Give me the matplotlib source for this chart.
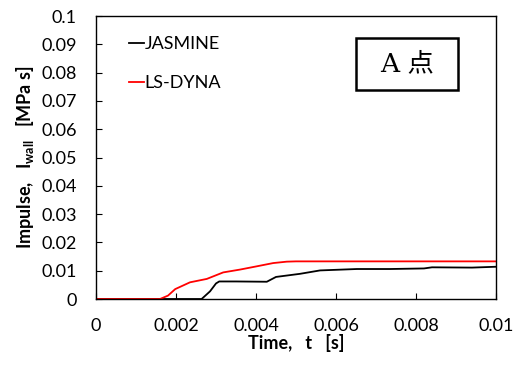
import matplotlib
matplotlib.use("Agg")
import matplotlib.pyplot as plt
from matplotlib.patches import Rectangle

plt.rcParams['font.family'] = ['Lato', 'DejaVu Sans']
plt.rcParams['mathtext.fontset'] = 'custom'
plt.rcParams['mathtext.bf'] = 'Lato:bold'
plt.rcParams['mathtext.rm'] = 'Lato'

red_t = [0, 0.0016, 0.0018, 0.00198, 0.00235, 0.00277, 0.00318, 0.0036, 0.0040, 0.00443, 0.00477, 0.0050, 0.01]
red_v = [0, 0, 0.0012, 0.0035, 0.0059, 0.0071, 0.0094, 0.0104, 0.0115, 0.0127, 0.0132, 0.0133, 0.0133]

blk_t = [0, 0.00264, 0.00285, 0.00300, 0.00308, 0.0035, 0.00427, 0.0045, 0.0051, 0.0056, 0.00652, 0.00735, 0.0082, 0.0084, 0.0094, 0.01]
blk_v = [0, 0, 0.0027, 0.0055, 0.0062, 0.0062, 0.0061, 0.0078, 0.0089, 0.0101, 0.0106, 0.0106, 0.0108, 0.0112, 0.0111, 0.0114]

xticks = [0, 0.002, 0.004, 0.006, 0.008, 0.01]
xlabels = ['0', '0.002', '0.004', '0.006', '0.008', '0.01']
yticks = [0, 0.01, 0.02, 0.03, 0.04, 0.05, 0.06, 0.07, 0.08, 0.09, 0.1]
ylabels = ['0', '0.01', '0.02', '0.03', '0.04', '0.05', '0.06', '0.07', '0.08', '0.09', '0.1']

fig = plt.figure(figsize=(5.17, 3.65), dpi=100)
ax = fig.add_axes([0.1857, 0.1808, 0.7737, 0.7753])
ax.plot(blk_t, blk_v, color='black', lw=1.3, label='JASMINE')
ax.plot(red_t, red_v, color='red', lw=1.3, label='LS-DYNA')
ax.set_xlim(0, 0.01)
ax.set_ylim(0, 0.1)
ax.set_xticks(xticks)
ax.set_xticklabels(xlabels)
ax.set_yticks(yticks)
ax.set_yticklabels(ylabels)
ax.tick_params(direction='in', length=4, labelsize=13)
ax.tick_params(axis='x', pad=14)
ax.tick_params(axis='y', pad=14)
for s in ax.spines.values():
    s.set_linewidth(1.0)
ax.set_xlabel('Time,   t   [s]', fontsize=13, fontweight='bold', labelpad=0)
ax.set_ylabel(r'Impulse,   I$_{\mathbf{wall}}$   [MPa s]', fontsize=13, fontweight='bold', labelpad=4)
leg = ax.legend(loc='upper left', bbox_to_anchor=(0.065, 0.955), frameon=False,
                handlelength=0.8, handletextpad=0.05, labelspacing=1.3, fontsize=13,
                borderaxespad=0)
ax.add_patch(Rectangle((0.65, 0.7385), 0.255, 0.184, transform=ax.transAxes,
                       fc='white', ec='black', lw=1.8, zorder=5))
ax.text(0.7775, 0.83, 'A 点', transform=ax.transAxes, ha='center', va='center',
        fontsize=19, family=['DejaVu Serif', 'Noto Sans CJK JP'], zorder=6)
fig.savefig('out.png', dpi=100)
